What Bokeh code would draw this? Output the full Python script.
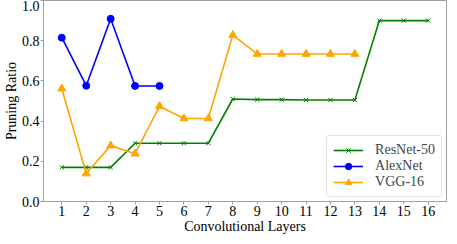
from bokeh.plotting import figure
from bokeh.embed import file_html
from bokeh.resources import INLINE
from bokeh.models import FixedTicker, PrintfTickFormatter, Range1d

layers_resnet = list(range(1, 17))
resnet50 = [0.17, 0.17, 0.17, 0.29, 0.29, 0.29, 0.29, 0.51, 0.507, 0.507, 0.505, 0.505, 0.505, 0.90, 0.90, 0.90]
layers_alex = [1, 2, 3, 4, 5]
alexnet = [0.815, 0.576, 0.909, 0.575, 0.575]
layers_vgg = list(range(1, 14))
vgg16 = [0.561, 0.139, 0.278, 0.238, 0.474, 0.413, 0.413, 0.828, 0.734, 0.734, 0.734, 0.734, 0.734]
x_ticks = list(range(1, 17))
y_ticks = [0.0, 0.2, 0.4, 0.6, 0.8, 1.0]

FONT = "Liberation Serif"

p = figure(width=449, height=236, output_backend="svg", toolbar_location=None,
           x_range=Range1d(0.25, 16.75), y_range=Range1d(0, 1),
           min_border_left=0, min_border_right=3, min_border_top=0, min_border_bottom=0)
p.background_fill_color = "white"
p.border_fill_color = "white"
p.outline_line_color = "#a0a0a0"
p.outline_line_width = 1
p.grid.visible = False

p.xaxis.ticker = FixedTicker(ticks=x_ticks)
p.yaxis.ticker = FixedTicker(ticks=y_ticks)
p.yaxis.formatter = PrintfTickFormatter(format="%.1f")
for ax in (p.xaxis[0], p.yaxis[0]):
    ax.axis_line_color = None
    ax.major_tick_line_color = "#a0a0a0"
    ax.major_tick_in = 0
    ax.major_tick_out = 3
    ax.minor_tick_line_color = None
    ax.major_label_text_font = FONT
    ax.major_label_text_font_size = "14px"
    ax.major_label_text_color = "black"
    ax.axis_label_text_font = FONT
    ax.axis_label_text_font_size = "14px"
    ax.axis_label_text_font_style = "normal"
    ax.axis_label_text_color = "black"
    ax.major_label_standoff = 1
    ax.axis_label_standoff = 0
p.xaxis.axis_label = "Convolutional Layers"
p.yaxis.axis_label = "Pruning Ratio"

green = "#008000"
blue = "#0000ff"
orange = "#ffa500"

p.line(layers_resnet, resnet50, color=green, line_width=1.6, legend_label="ResNet-50")
p.scatter(layers_resnet, resnet50, marker="x", color=green, size=6, line_width=1, legend_label="ResNet-50")
p.line(layers_alex, alexnet, color=blue, line_width=1.6, legend_label="AlexNet")
p.scatter(layers_alex, alexnet, marker="circle", color=blue, size=7, legend_label="AlexNet")
p.line(layers_vgg, vgg16, color=orange, line_width=1.6, legend_label="VGG-16")
p.scatter(layers_vgg, vgg16, marker="triangle", color=orange, size=8, legend_label="VGG-16")

lg = p.legend[0]
lg.location = "bottom_right"
lg.label_text_font = FONT
lg.label_text_font_size = "14px"
lg.border_line_color = "#cccccc"
lg.border_line_width = 1
lg.border_radius = 3
lg.margin = 4
lg.padding = 6
lg.spacing = 0
lg.glyph_width = 30
lg.label_standoff = 12
lg.label_height = 16
lg.glyph_height = 16

open("out.html", "w").write(file_html(p, INLINE))
